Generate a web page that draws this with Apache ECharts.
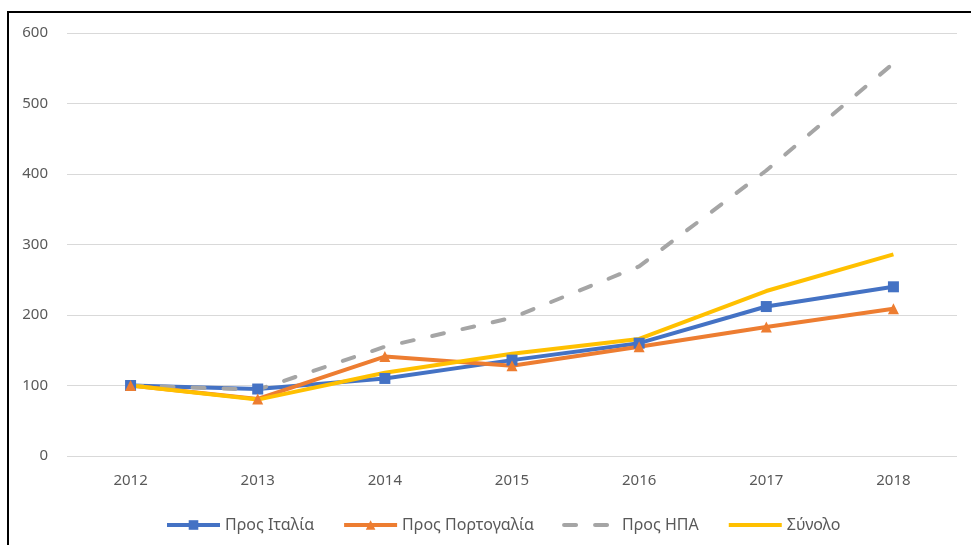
<!DOCTYPE html>
<html><head><meta charset="utf-8">
<script src="https://cdn.jsdelivr.net/npm/echarts@6/dist/echarts.min.js"></script>
<style>html,body{margin:0;padding:0;background:#fff;}#c{width:971px;height:545px;}</style>
</head><body><div id="c"></div>
<script>
const years = ['2012','2013','2014','2015','2016','2017','2018'];
const italy = [100, 95, 110, 136, 160, 212, 240];
const portugal = [100, 81, 141, 128, 155, 183, 209];
const usa = [100, 94, 155, 196, 269, 405, 557];
const total = [100, 80, 118, 145, 166, 234, 286];
const names = ['Προς Ιταλία', 'Προς Πορτογαλία', 'Προς ΗΠΑ', 'Σύνολο'];

const chart = echarts.init(document.getElementById('c'), null, {renderer: 'canvas'});
const font = 'Noto Sans, Liberation Sans, sans-serif';
chart.setOption({
  animation: false,
  textStyle: {fontFamily: font},
  grid: {left: 67, right: 14, top: 33, bottom: 89},
  graphic: [{
    type: 'polyline', silent: true,
    shape: {points: [[8, 545], [8, 12], [971, 12]]},
    style: {stroke: '#000', lineWidth: 2, fill: null}
  }],
  legend: {
    top: 512, left: 160, itemWidth: 53, itemHeight: 12, itemGap: 28,
    textStyle: {color: '#595959', fontSize: 16, fontFamily: font},
    lineStyle: {width: 4},
    data: names
  },
  xAxis: {
    type: 'category', data: years, boundaryGap: true,
    axisLine: {show: false}, axisTick: {show: false},
    axisLabel: {color: '#595959', fontSize: 15, margin: 17, fontFamily: font}
  },
  yAxis: {
    type: 'value', min: 0, max: 600, interval: 100,
    axisLine: {show: false}, axisTick: {show: false},
    axisLabel: {color: '#595959', fontSize: 15, margin: 19, fontFamily: font},
    splitLine: {lineStyle: {color: '#D9D9D9', width: 1}}
  },
  series: [
    {name: names[0], type: 'line', data: italy, symbol: 'rect', symbolSize: 11,
     lineStyle: {color: '#4472C4', width: 4}, itemStyle: {color: '#4472C4'}},
    {name: names[1], type: 'line', data: portugal, symbol: 'triangle', symbolSize: 11,
     lineStyle: {color: '#ED7D31', width: 4}, itemStyle: {color: '#ED7D31'}},
    {name: names[2], type: 'line', data: usa, symbol: 'none', showSymbol: false,
     lineStyle: {color: '#A5A5A5', width: 4, type: [12, 19], cap: 'round'}, itemStyle: {color: 'rgba(0,0,0,0)'}},
    {name: names[3], type: 'line', data: total, symbol: 'none', showSymbol: false,
     lineStyle: {color: '#FFC000', width: 4}, itemStyle: {color: 'rgba(0,0,0,0)'}}
  ]
});
</script></body></html>
